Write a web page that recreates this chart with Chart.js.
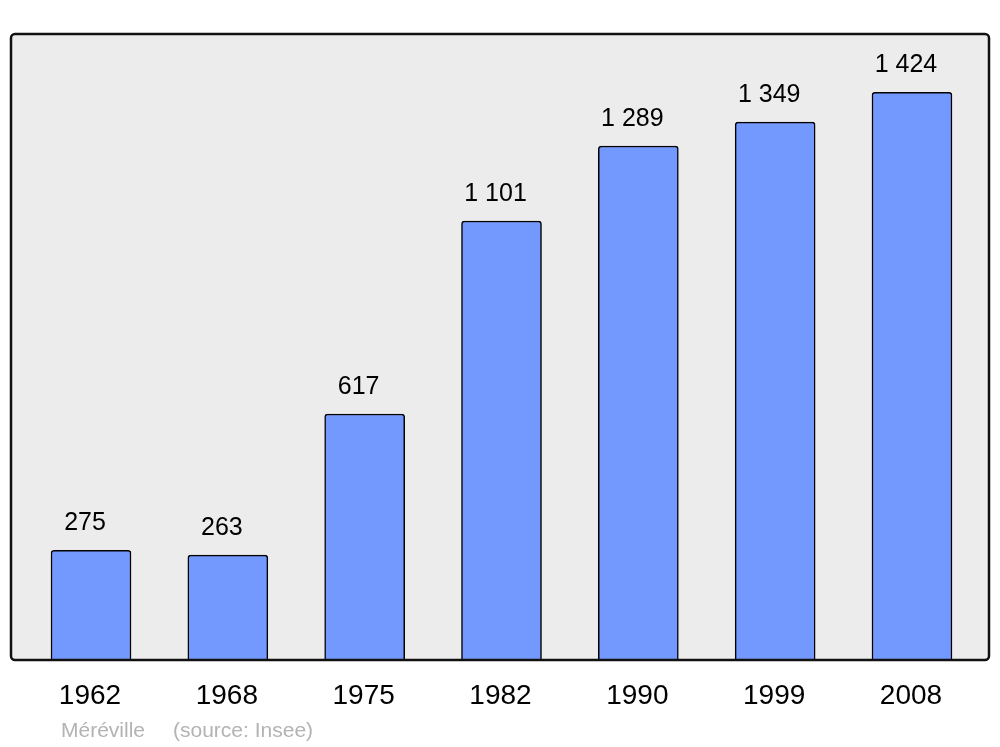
<!DOCTYPE html>
<html>
<head>
<meta charset="utf-8">
<script src="https://cdn.jsdelivr.net/npm/chart.js@4/dist/chart.umd.min.js"></script>
<style>
  html, body { margin: 0; padding: 0; background: #fff; }
  canvas { display: block; }
</style>
</head>
<body>
<canvas id="chart" width="1000" height="747"></canvas>
<script>
(function() {
    'use strict';

    const years = ['1962', '1968', '1975', '1982', '1990', '1999', '2008'];
    const population = [275, 263, 617, 1101, 1289, 1349, 1424];
    const commune = 'Méréville';
    const source = '(source: Insee)';

    const fontFamily = '"Liberation Sans", Arial, sans-serif';

    function formatNumber(n) {
        return String(n).replace(/\B(?=(\d{3})+(?!\d))/g, ' ');
    }

    // Grey frame behind the bars
    const framePlugin = {
        id: 'frame',
        beforeDatasetsDraw(chart) {
            const { ctx, chartArea } = chart;
            const x0 = chartArea.left - 11.6;
            const x1 = chartArea.right + 8.6;
            ctx.save();
            ctx.beginPath();
            ctx.roundRect(x0, chartArea.top, x1 - x0, chartArea.bottom - chartArea.top, 4);
            ctx.fillStyle = '#ececec';
            ctx.fill();
            ctx.restore();
        },
        afterDatasetsDraw(chart) {
            const { ctx, chartArea } = chart;
            const x0 = chartArea.left - 11.6;
            const x1 = chartArea.right + 8.6;
            ctx.save();
            ctx.beginPath();
            ctx.roundRect(x0, chartArea.top, x1 - x0, chartArea.bottom - chartArea.top, 4);
            ctx.lineWidth = 2.5;
            ctx.strokeStyle = '#111';
            ctx.stroke();
            ctx.restore();
        }
    };

    // Value labels, year labels and footer
    const labelPlugin = {
        id: 'labels',
        afterDraw(chart) {
            const { ctx } = chart;
            const xScale = chart.scales.x;
            const meta = chart.getDatasetMeta(0);
            ctx.save();
            ctx.textAlign = 'center';
            ctx.textBaseline = 'middle';
            ctx.fillStyle = '#000';

            ctx.font = '25px ' + fontFamily;
            meta.data.forEach((bar, i) => {
                ctx.fillText(formatNumber(population[i]), bar.x - 6, bar.y - 27);
            });

            ctx.font = '28px ' + fontFamily;
            years.forEach((y, i) => {
                ctx.fillText(y, xScale.getPixelForValue(i) - 1, 696);
            });

            ctx.textAlign = 'left';
            ctx.font = '21px ' + fontFamily;
            ctx.fillStyle = '#b3b3b3';
            ctx.fillText(commune, 61, 731);
            ctx.fillText(source, 173, 731);
            ctx.restore();
        }
    };

    new Chart(document.getElementById('chart'), {
        type: 'bar',
        data: {
            labels: years,
            datasets: [{
                data: population,
                backgroundColor: '#7399ff',
                borderColor: '#000',
                borderWidth: 1.5,
                borderRadius: 3,
                borderSkipped: 'bottom',
                barThickness: 80,
            }]
        },
        options: {
            responsive: false,
            animation: false,
            layout: {
                padding: { left: 22.6, right: 19.6, top: 34, bottom: 87 }
            },
            plugins: {
                legend: { display: false },
                tooltip: { enabled: false }
            },
            scales: {
                x: { display: false },
                y: { display: false, min: 0, max: 1570 }
            }
        },
        plugins: [framePlugin, labelPlugin]
    });
})();
</script>
</body>
</html>
